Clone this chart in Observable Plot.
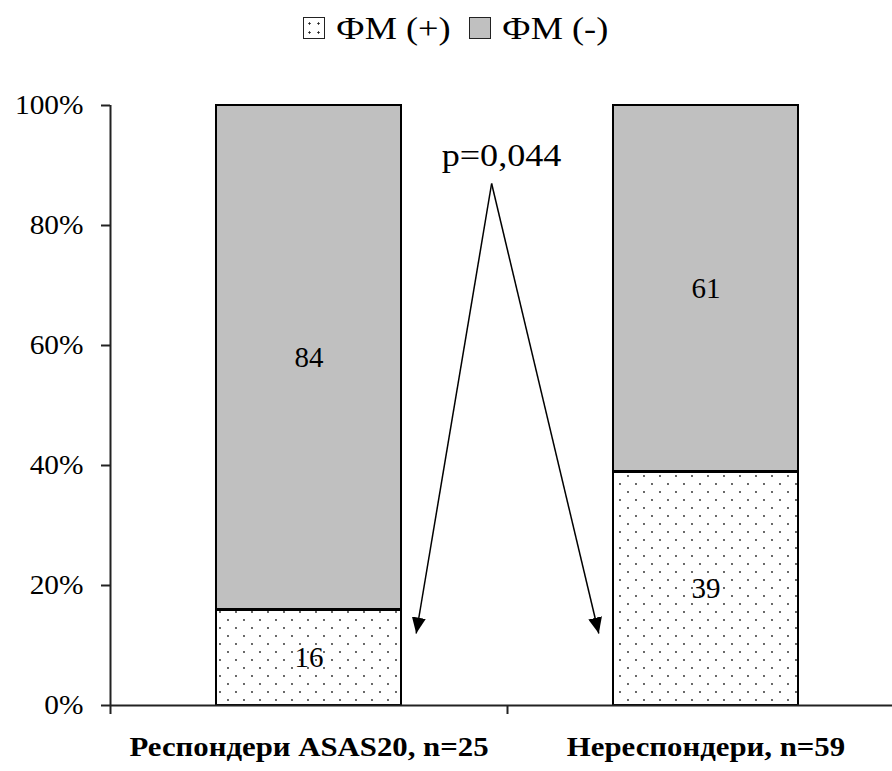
<!DOCTYPE html>
<html>
<head>
<meta charset="utf-8">
<script src="https://cdn.jsdelivr.net/npm/d3@7"></script>
<script src="https://cdn.jsdelivr.net/npm/@observablehq/plot@0.6"></script>
<style>
  body { margin: 0; background: #fff; font-family: "Liberation Serif", "Times New Roman", serif; color: #000; }
  #legend { height: 56px; display: flex; justify-content: center; align-items: center; padding-left: 20px; box-sizing: border-box; width: 892px; }
  #legend .item { display: flex; align-items: center; }
  #legend .swatch { width: 22px; height: 22px; border: 1.5px solid #222; box-sizing: border-box; }
  #legend .swatch.dots { background-color: #fff; background-image: radial-gradient(circle, #222 0.9px, transparent 1.3px); background-size: 9px 9px; background-position: 1px 1px; }
  #legend .swatch.gray { background: #c0c0c0; }
  #legend .lbl { display: inline-block; font-size: 31px; line-height: 1; transform: scaleX(1.17); transform-origin: left center; }
  #chart svg { display: block; }
</style>
</head>
<body>
<div id="legend"></div>
<div id="chart"></div>
<script>
// Share of patients with and without ФМ in each response group, %
const categories = ["Респондери ASAS20, n=25", "Нереспондери, n=59"];
const series = ["ФМ (+)", "ФМ (-)"];
const fmPositive = [16, 39];
const fmNegative = [84, 61];
const yTicks = [0, 20, 40, 60, 80, 100];
const pValueLabel = "p=0,044";

// Comparison arrow: common apex and the two tips (x in category units, y in %)
const arrowApex = {x: 0.96, y: 87};
const arrowTips = [{x: 0.77, y: 12}, {x: 1.23, y: 12}];

const barHalf = 0.233;     // half bar width, in category units

// Stacked segments built from the two series
const segments = categories.flatMap((cat, i) => [
  {cat, i, series: series[0], y1: 0, y2: fmPositive[i], value: fmPositive[i]},
  {cat, i, series: series[1], y1: fmPositive[i], y2: fmPositive[i] + fmNegative[i], value: fmNegative[i]}
]);
const boundaries = segments.filter(d => d.series === series[0]);

// Legend
const legend = d3.select("#legend");
series.forEach((s, k) => {
  const item = legend.append("span").attr("class", "item")
    .style("margin-left", k === 0 ? "0px" : "18px");
  item.append("span").attr("class", "swatch " + (k === 0 ? "dots" : "gray"));
  item.append("span").attr("class", "lbl").style("margin-left", "11px")
    .style("margin-right", "17px").text(s);
});

const chart = Plot.plot({
  width: 892,
  height: 715,
  marginLeft: 110,
  marginRight: 0,
  marginTop: 49,
  marginBottom: 66,
  style: {fontFamily: "'Liberation Serif', 'Times New Roman', serif", fontSize: "28px", color: "#000", background: "#fff", overflow: "visible"},
  x: {domain: [0, 2], range: [110, 904]},
  y: {domain: [0, 100]},
  color: {domain: series, range: ["url(#fm-dots)", "#c0c0c0"]},
  marks: [
    Plot.rect(segments, {
      x1: d => d.i + 0.5 - barHalf,
      x2: d => d.i + 0.5 + barHalf,
      y1: "y1", y2: "y2",
      fill: "series", stroke: "#000", strokeWidth: 2
    }),
    Plot.ruleY(boundaries, {
      x1: d => d.i + 0.5 - barHalf,
      x2: d => d.i + 0.5 + barHalf,
      y: "y2", stroke: "#000", strokeWidth: 3
    }),
    Plot.text(segments, {
      x: d => d.i + 0.5,
      y: d => (d.y1 + d.y2) / 2,
      text: d => String(d.value),
      fontSize: 29, fill: "#000"
    }),
    Plot.ruleY([0], {stroke: "#222", strokeWidth: 2}),
    Plot.ruleX([0], {stroke: "#222", strokeWidth: 2}),
    Plot.axisY({
      ticks: yTicks, tickFormat: d => d + "%", tickSize: 9, tickPadding: 18,
      stroke: "#222", strokeWidth: 2, fontSize: 28, label: null
    }),
    Plot.axisX({
      ticks: [0, 1, 2], tickSize: 9, tickFormat: () => "",
      stroke: "#222", strokeWidth: 2, label: null
    }),
    Plot.axisX({
      ticks: [0.5, 1.5], tickSize: 0, tickPadding: 31,
      tickFormat: d => categories[Math.floor(d)],
      fontWeight: "bold", fontSize: 28, label: null
    }),
    Plot.link(arrowTips, {
      x1: () => arrowApex.x, y1: () => arrowApex.y,
      x2: "x", y2: "y",
      stroke: "#000", strokeWidth: 1.5
    }),
    Plot.text([pValueLabel], {
      x: () => arrowApex.x + 0.025, y: () => 90,
      text: d => d, fontSize: 32, lineAnchor: "bottom", fill: "#000"
    })
  ]
});

// Pattern fill for ФМ (+) and filled arrowheads
const svg = d3.select(chart);
const defs = svg.insert("defs", ":first-child");
const pat = defs.append("pattern").attr("id", "fm-dots")
  .attr("width", 16).attr("height", 16).attr("patternUnits", "userSpaceOnUse");
pat.append("rect").attr("width", 16).attr("height", 16).attr("fill", "#fff");
pat.append("circle").attr("cx", 4).attr("cy", 4).attr("r", 0.9).attr("fill", "#222");
pat.append("circle").attr("cx", 12).attr("cy", 12).attr("r", 0.9).attr("fill", "#222");
defs.append("marker").attr("id", "fm-arrowhead")
  .attr("viewBox", "0 0 16 14").attr("refX", 16).attr("refY", 7)
  .attr("markerWidth", 16).attr("markerHeight", 14)
  .attr("markerUnits", "userSpaceOnUse").attr("orient", "auto")
  .append("path").attr("d", "M0,0L16,7L0,14Z").attr("fill", "#000");
svg.selectAll('g[aria-label="link"] path').attr("marker-end", "url(#fm-arrowhead)");

// Widen the serif labels about their anchor point
function stretchFor(el) {
  const group = el.closest("g[aria-label]");
  const role = group ? group.getAttribute("aria-label") : "";
  if (role.startsWith("y-axis")) return 1.05;
  if (role.startsWith("x-axis")) return 1.1;
  if (el.textContent === pValueLabel) return 1.13;
  return 1.0;
}
svg.selectAll("text").each(function() {
  const s = stretchFor(this);
  if (s === 1) return;
  const el = d3.select(this);
  const t = el.attr("transform");
  if (t) {
    el.attr("transform", t + ` scale(${s},1)`);
  } else {
    const x = +el.attr("x") || 0, y = +el.attr("y") || 0;
    el.attr("transform", `translate(${x},${y}) scale(${s},1) translate(${-x},${-y})`);
  }
});

document.getElementById("chart").appendChild(chart);
</script>
</body>
</html>
